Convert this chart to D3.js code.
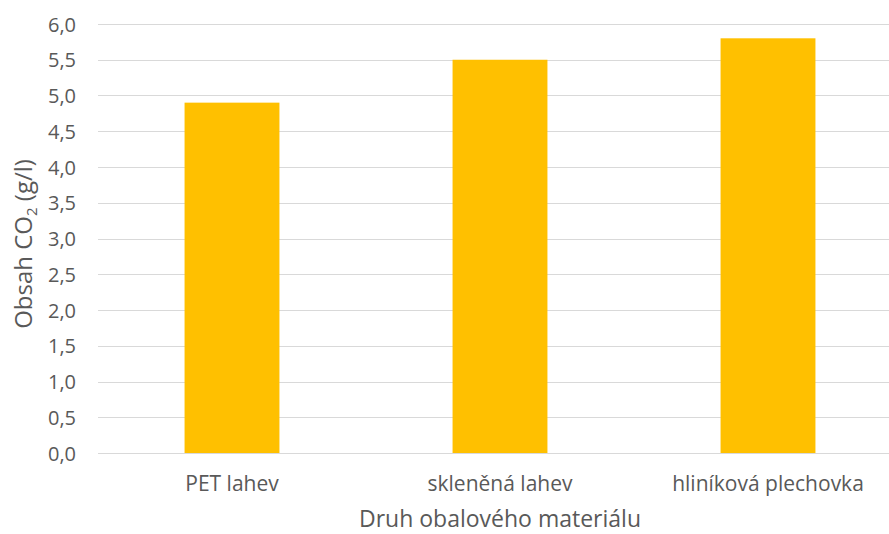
<!DOCTYPE html>
<html><head><meta charset="utf-8">
<script src="https://cdn.jsdelivr.net/npm/d3@7"></script>
<style>body{margin:0;background:#fff}svg{display:block}text{font-family:"Open Sans",sans-serif;fill:#595959}</style>
</head><body>
<script>
const categories = ["PET lahev", "skleněná lahev", "hliníková plechovka"];
const values = [4.9, 5.5, 5.8];
const yTicks = [0, 0.5, 1, 1.5, 2, 2.5, 3, 3.5, 4, 4.5, 5, 5.5, 6];
const xTitle = "Druh obalového materiálu";

(function () {
const W = 889, H = 534;
const pL = 98, pR = 902, pT = 24, pB = 453;
const svg = d3.select("body").append("svg").attr("width", W).attr("height", H);

const x = d3.scaleBand().domain(categories).range([pL, pR]).paddingInner(0.646).paddingOuter(0.323);
const y = d3.scaleLinear().domain([0, 6]).range([pB, pT]);

const fmt = v => d3.format(".1f")(v).replace(".", ",");

// gridlines
svg.append("g").selectAll("line").data(yTicks).join("line")
  .attr("x1", pL).attr("x2", pR)
  .attr("y1", d => Math.round(y(d)) + 0.5).attr("y2", d => Math.round(y(d)) + 0.5)
  .attr("stroke", "#d9d9d9").attr("stroke-width", 1);

// y axis labels
const yAxis = d3.axisLeft(y).tickValues(yTicks).tickFormat(fmt).tickSize(0).tickPadding(0);
const gy = svg.append("g").attr("transform", `translate(76,0)`).call(yAxis);
gy.select(".domain").remove();
gy.selectAll("text").style("font-size", "20px").style("font-family", "'Open Sans',sans-serif").attr("fill", "#595959").attr("dy", "0.36em");

// bars
svg.append("g").selectAll("rect").data(values).join("rect")
  .attr("x", (d, i) => x(categories[i]))
  .attr("width", x.bandwidth())
  .attr("y", d => y(d))
  .attr("height", d => y(0) - y(d))
  .attr("fill", "#FFC000");

// x axis labels
const xAxis = d3.axisBottom(x).tickSize(0).tickPadding(0);
const gx = svg.append("g").attr("transform", `translate(0,491)`).call(xAxis);
gx.select(".domain").remove();
gx.selectAll("text").style("font-size", "21px").style("font-family", "'Open Sans',sans-serif").attr("fill", "#595959").attr("dy", "0");

// x title
svg.append("text").attr("x", (pL + pR) / 2).attr("y", 527).attr("text-anchor", "middle")
  .style("font-size", "23px").text(xTitle);

// y title
const yt = svg.append("text").attr("transform", `translate(32,244) rotate(-90)`)
  .attr("text-anchor", "middle").style("font-size", "24px");
yt.append("tspan").text("Obsah CO");
yt.append("tspan").text("2").style("font-size", "15px").attr("dy", "5");
yt.append("tspan").text(" (g/l)").attr("dy", "-5");
})();
</script>
</body></html>
